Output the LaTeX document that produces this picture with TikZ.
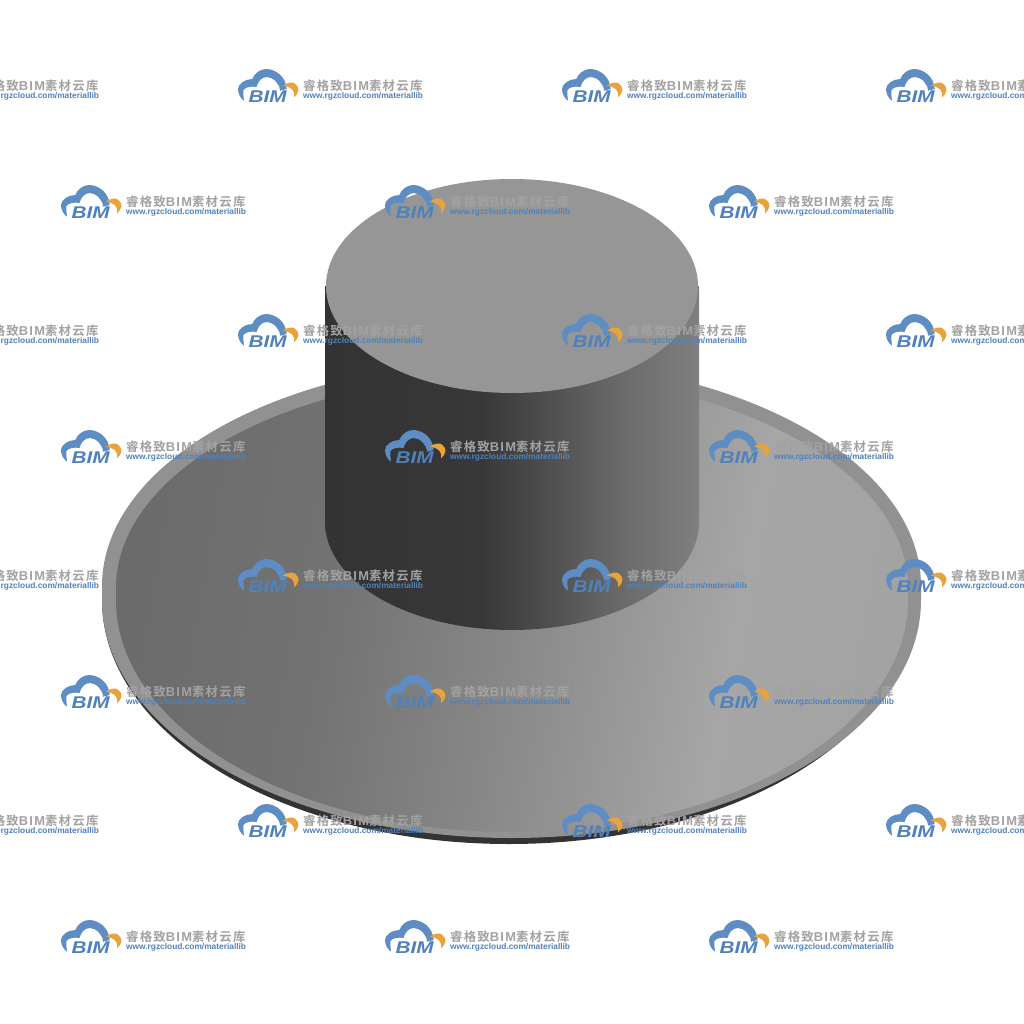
\documentclass[tikz,border=0pt]{standalone}
\usepackage{fontspec}
\usepackage{graphicx}
\newfontfamily\wmcjk{Noto Sans CJK SC}[BoldFont={Noto Sans CJK SC Bold},LetterSpace=10]
\newfontfamily\wmlat{Liberation Sans}
\newfontfamily\wmlats{Liberation Sans}[LetterSpace=10]
\definecolor{wmblue}{HTML}{4F82BC}
\definecolor{wmlogo}{HTML}{5E8DC4}
\definecolor{wmorange}{HTML}{E8A33D}
\definecolor{wmgray}{HTML}{A2A2A2}
\pgfdeclarehorizontalshading{cylside}{100bp}{
 color(0bp)=(black!80); color(25bp)=(black!80); color(46bp)=(black!78);
 color(55bp)=(black!69); color(65bp)=(black!58); color(75bp)=(black!50); color(100bp)=(black!50)}
\pgfdeclarehorizontalshading{discface}{100bp}{
 color(0bp)=(black!58); color(25bp)=(black!58); color(38bp)=(black!55); color(50bp)=(black!47);
 color(65bp)=(black!35); color(75bp)=(black!36); color(100bp)=(black!36)}
\tikzset{
 wmtext/.style={inner sep=0pt,anchor=west,font=\bfseries},
}
\newcommand{\wm}[3]{%
 \begin{scope}[shift={(#1,#2)}]
  \fill[wmlogo] (6,13.7) .. controls (2,11) and (0,6) .. (0,2)
    .. controls (0,-3) and (7,-8) .. (14.3,-8)
    .. controls (16,-13) and (22,-18) .. (28,-18)
    .. controls (38,-18) and (48,-10) .. (48.7,2)
    -- (42,3.7) .. controls (42,-3) and (35,-10) .. (29,-10)
    .. controls (24,-10) and (20,-6) .. (18.5,0)
    .. controls (14,-1) and (7,0) .. (5.5,3)
    .. controls (5,6) and (5.5,9) .. (6,13.7) -- cycle;
  \fill[wmorange] (45,-1.5) .. controls (49,-4.5) and (54,-5) .. (56,-4)
    .. controls (59,-2) and (61,1) .. (60.3,3.7)
    .. controls (60,6) and (58,9) .. (56,10.3)
    .. controls (56.5,7) and (56,5) .. (55,3.7)
    .. controls (54,1.5) and (50,-0.5) .. (45,-1.5) -- cycle;
  \node[wmtext,text=wmblue] (logo#3) at (10.5,10) {\scalebox{1.22}[1]{\wmlat\fontsize{17}{17}\selectfont\itshape BIM}};
  \node[wmtext,text=wmgray] (cn#3) at (65,-1) {\wmcjk\fontsize{12.4}{13}\selectfont 睿格致{\wmlats\fontsize{12.9}{13}\selectfont BIM}素材云库};
  \node[wmtext,text=wmblue] (url#3) at (65,9.5) {\wmlat\fontsize{8.35}{9}\selectfont www.rgzcloud.com/materiallib};
 \end{scope}}
\begin{document}
\begin{tikzpicture}[x=1pt,y=-1pt]
\useasboundingbox (0,0) rectangle (1024,1024);
\clip (0,0) rectangle (1024,1024);
\fill[white] (0,0) rectangle (1024,1024);
% disc: dark underside, rim, face
\fill[black!80] (102,600) arc[start angle=180,end angle=0,x radius=407,y radius=244] -- cycle;
\fill[black!43] (102,586) arc[start angle=180,end angle=360,x radius=409.5,y radius=226]
   -- (921,600) arc[start angle=0,end angle=180,x radius=409.5,y radius=238] -- cycle;
\shade[shading=discface,shading angle=-10] (116,588) arc[start angle=180,end angle=360,x radius=396,y radius=214]
   -- (908,600) arc[start angle=0,end angle=180,x radius=396,y radius=232] -- cycle;
% cylinder
\shade[shading=cylside] (325,286) -- (325,522) arc[start angle=180,end angle=0,x radius=187,y radius=108] -- (699,286) -- cycle;
\fill[black!41] (512,286) ellipse[x radius=186,y radius=107];
% watermarks
\foreach \r/\yy in {1/87,2/332,3/577,4/822}{
 \foreach \c/\xx in {1/-86,2/238,3/562,4/886}{
  \wm{\xx}{\yy}{a\r\c}
 }}
\foreach \r/\yy in {1/203,2/448,3/693,4/938}{
 \foreach \c/\xx in {1/61,2/385,3/709}{
  \wm{\xx}{\yy}{b\r\c}
 }}
\end{tikzpicture}
\end{document}
